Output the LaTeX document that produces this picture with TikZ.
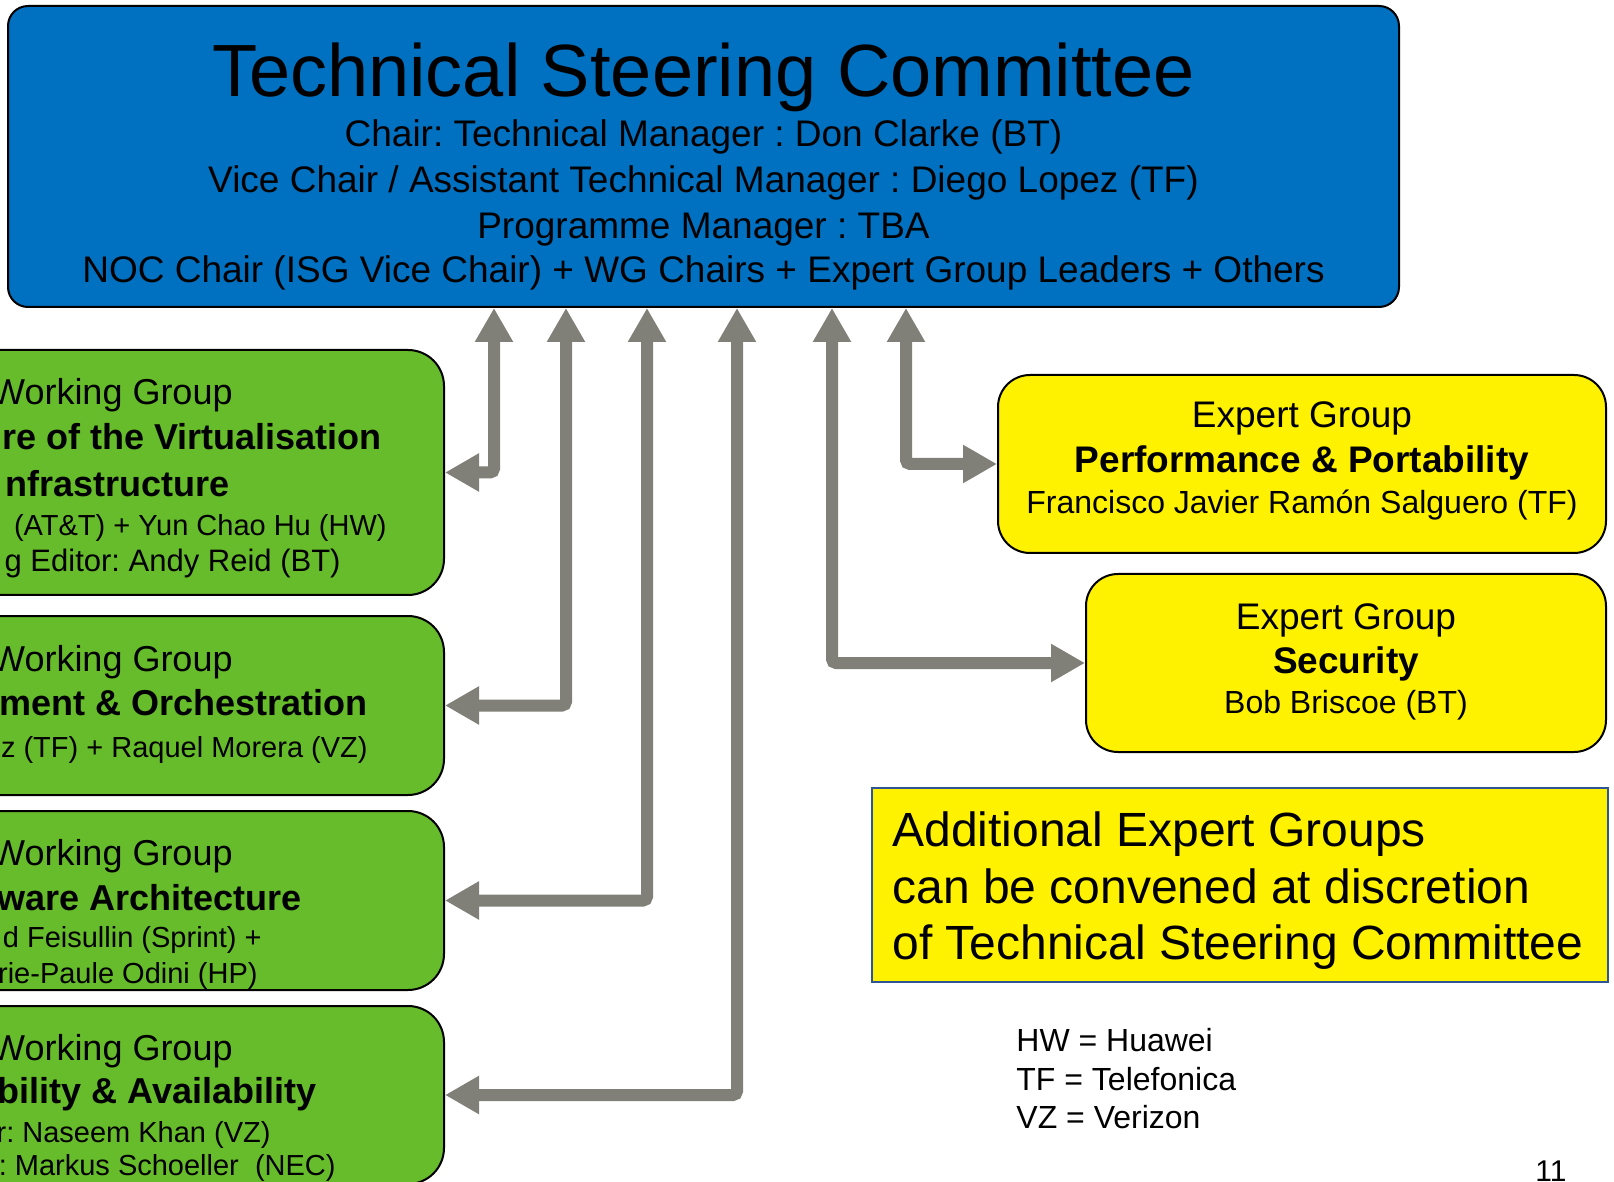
\documentclass[tikz,border=0pt]{standalone}
\usepackage{fontspec}
\setmainfont{Liberation Sans}
\frenchspacing
\usetikzlibrary{arrows.meta,positioning}
\definecolor{tscblue}{RGB}{0,112,192}
\definecolor{wggreen}{RGB}{102,188,42}
\definecolor{linkgray}{RGB}{128,128,120}
\definecolor{noteblue}{RGB}{47,85,151}
\tikzset{
  tscbox/.style={draw,line width=1pt,fill=tscblue,rounded corners=10pt,inner sep=0pt},
  wgbox/.style={draw,line width=1pt,fill=wggreen,rounded corners=18pt,inner sep=0pt,minimum width=332pt},
  egbox/.style={draw,line width=1pt,fill=yellow,rounded corners=16pt,inner sep=0pt,minimum height=89pt},
  notebox/.style={draw=noteblue,line width=1pt,fill=yellow,inner sep=0pt},
  link/.style={draw=linkgray,line width=6pt,rounded corners=2pt,
    {Triangle[width=18pt,length=17pt]}-{Triangle[width=18pt,length=17pt]}},
  txt/.style={inner sep=0pt,anchor=base},
  mid/.style={txt,font=\fontsize{18.5pt}{22pt}\selectfont},
  midb/.style={mid,font=\fontsize{18.5pt}{22pt}\selectfont\bfseries},
  wgtop/.style={txt,anchor=base east,font=\fontsize{18pt}{21pt}\selectfont},
  wghead/.style={wgtop,font=\fontsize{18pt}{21pt}\selectfont\bfseries},
  wgname/.style={wgtop,font=\fontsize{14.5pt}{17pt}\selectfont},
  wgnamel/.style={wgtop,font=\fontsize{15.5pt}{18pt}\selectfont},
  small/.style={txt,anchor=base west,font=\fontsize{16pt}{19pt}\selectfont}
}

\begin{document}
\begin{tikzpicture}[x=0.5pt,y=-0.5pt]
  \useasboundingbox (0,0) rectangle (1614,1182);
  \clip (0,0) rectangle (1614,1182);
  \fill[white] (0,0) rectangle (1614,1182);
  % committee
  \node[tscbox,minimum width=695.5pt,minimum height=150.5pt] (tsc) at (703.5,156.5) {};
  \node[txt,font=\fontsize{37pt}{40pt}\selectfont] (title) at (703.5,97) {Technical Steering Committee};
  \foreach \Y/\L [count=\i] in {147/{Chair: Technical Manager : Don Clarke (BT)},
      193/{Vice Chair / Assistant Technical Manager : Diego Lopez (TF)},
      239/{Programme Manager : TBA},
      283/{NOC Chair (ISG Vice Chair) + WG Chairs + Expert Group Leaders + Others}}
    \node[mid] (tsc\i) at (703.5,\Y) {\L};
  % working groups
  \node[wgbox,minimum height=122.5pt] (wg1) at (112,472.5) {};
  \node[wgbox,minimum height=89.5pt] (wg2) at (112,705.5) {};
  \node[wgbox,minimum height=89.5pt] (wg3) at (112,900.5) {};
  \node[wgbox,minimum height=89pt] (wg4) at (112,1095) {};
  \foreach \S/\X/\Y/\L [count=\i] in {wgtop/233/405/{Working Group},
      wghead/382/450/{re of the Virtualisation},
      wghead/230/497/{nfrastructure},
      wgname/387/536/{(AT\&T) + Yun Chao Hu (HW)},
      wgnamel/341/572/{g Editor: Andy Reid (BT)}}
    \node[\S] (wg1t\i) at (\X,\Y) {\L};
  \foreach \S/\X/\Y/\L [count=\i] in {wgtop/233/671/{Working Group},
      wghead/368/715/{ment \& Orchestration},
      wgname/368/757/{z (TF) + Raquel Morera (VZ)}}
    \node[\S] (wg2t\i) at (\X,\Y) {\L};
  \foreach \S/\X/\Y/\L [count=\i] in {wgtop/233/865/{Working Group},
      wghead/302/910/{ware Architecture},
      wgname/262/947/{d Feisullin (Sprint) +},
      wgname/258/983/{rie-Paule Odini (HP)}}
    \node[\S] (wg3t\i) at (\X,\Y) {\L};
  \foreach \S/\X/\Y/\L [count=\i] in {wgtop/233/1060/{Working Group},
      wghead/317/1103/{bility \& Availability},
      wgname/271/1142/{ir: Naseem Khan (VZ)},
      wgname/336/1175/{ir: Markus Schoeller~ (NEC)}}
    \node[\S] (wg4t\i) at (\X,\Y) {\L};
  % expert groups
  \node[egbox,minimum width=304pt] (eg1) at (1302,464) {};
  \node[mid] (eg1a) at (1302,428) {Expert Group};
  \node[midb] (eg1b) at (1302,473) {Performance \& Portability};
  \node[txt,font=\fontsize{16pt}{19pt}\selectfont] (eg1c) at (1302,514) {Francisco Javier Ramón Salguero (TF)};
  \node[egbox,minimum width=260pt] (eg2) at (1346,663) {};
  \node[mid] (eg2a) at (1346,629) {Expert Group};
  \node[midb] (eg2b) at (1346,673) {Security};
  \node[txt,font=\fontsize{16pt}{19pt}\selectfont] (eg2c) at (1346,713) {Bob Briscoe (BT)};
  % links
  \foreach \X/\T in {494/wg1,566/wg2,647/wg3,737/wg4,832/eg2,906/eg1}
    \draw[link] (tsc.south -| \X,0) |- (\T);
  % note and legend
  \node[notebox,minimum width=368pt,minimum height=97pt] (note) at (1240,885) {};
  \foreach \Y/\L [count=\i] in {846/{Additional Expert Groups},
      903/{can be convened at discretion},
      959/{of Technical Steering Committee}}
    \node[txt,anchor=base west,font=\fontsize{24pt}{28pt}\selectfont] (note\i) at (892,\Y) {\L};
  \foreach \Y/\L [count=\i] in {1051/{HW = Huawei},1090/{TF = Telefonica},1128/{VZ = Verizon}}
    \node[small] (key\i) at (1016,\Y) {\L};
  \node[txt,anchor=base east,font=\fontsize{15pt}{18pt}\selectfont] (page) at (1567,1181) {11};
\end{tikzpicture}
\end{document}
